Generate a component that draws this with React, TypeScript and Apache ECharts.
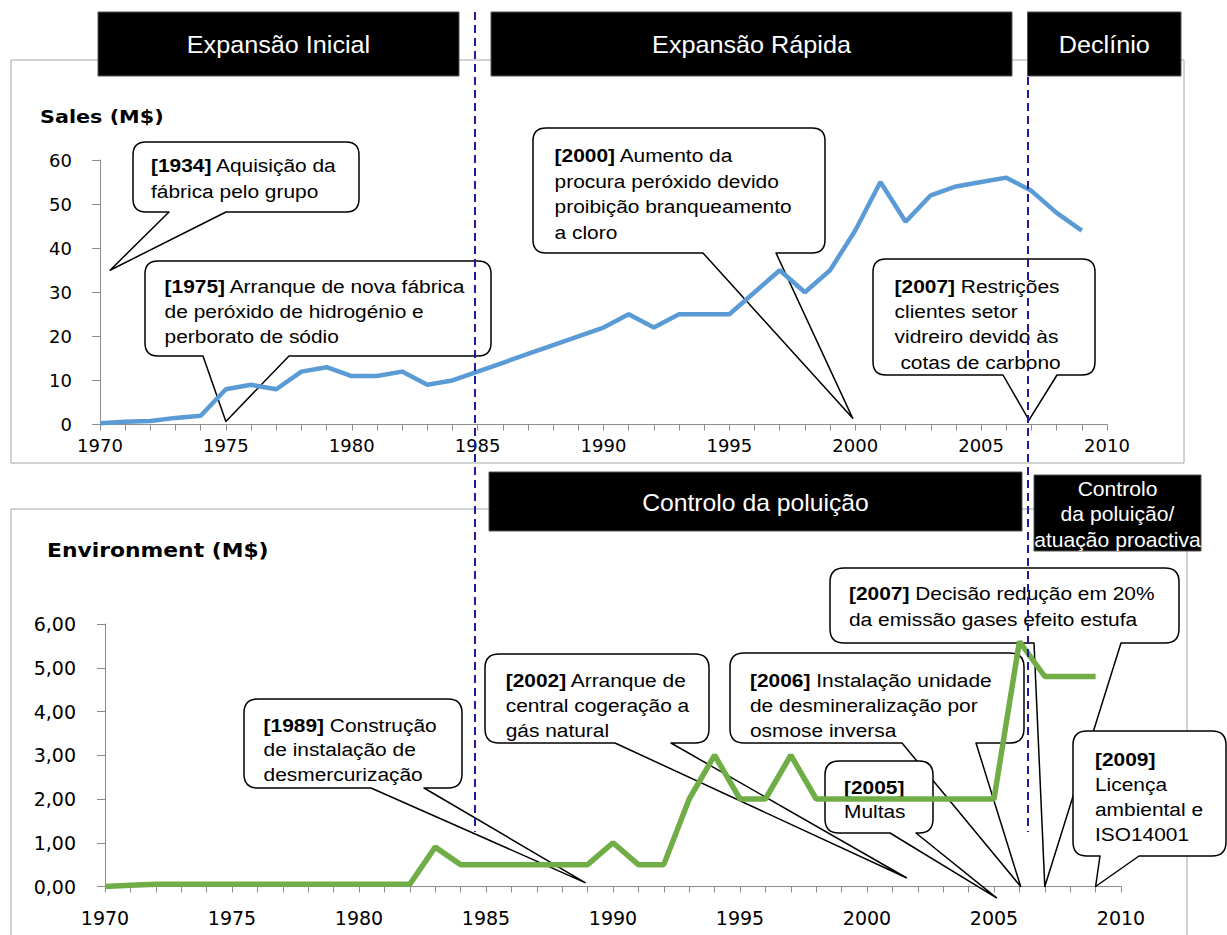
import { useEffect, useRef } from 'react';
import * as echarts from 'echarts';

// ---------- data ----------
const years = [
  1970, 1971, 1972, 1973, 1974, 1975, 1976, 1977, 1978, 1979,
  1980, 1981, 1982, 1983, 1984, 1985, 1986, 1987, 1988, 1989,
  1990, 1991, 1992, 1993, 1994, 1995, 1996, 1997, 1998, 1999,
  2000, 2001, 2002, 2003, 2004, 2005, 2006, 2007, 2008, 2009,
];
const salesValues = [
  0.3, 0.6, 0.8, 1.5, 2, 8, 9, 8, 12, 13,
  11, 11, 12, 9, 10, 12, 14, 16, 18, 20,
  22, 25, 22, 25, 25, 25, 30, 35, 30, 35,
  44, 55, 46, 52, 54, 55, 56, 53, 48, 44,
];
const environmentValues = [
  0, 0.03, 0.05, 0.05, 0.05, 0.05, 0.05, 0.05, 0.05, 0.05,
  0.05, 0.05, 0.05, 0.9, 0.5, 0.5, 0.5, 0.5, 0.5, 0.5,
  1.0, 0.5, 0.5, 2.0, 3.0, 2.0, 2.0, 3.0, 2.0, 2.0,
  2.0, 2.0, 2.0, 2.0, 2.0, 2.0, 5.6, 4.8, 4.8, 4.8,
];
const salesTitle = 'Sales (M$)';
const environmentTitle = 'Environment (M$)';
const topPhases = ['Expansão Inicial', 'Expansão Rápida', 'Declínio'];
const bottomPhases = ['Controlo da poluição', 'Controlo\nda poluição/\natuação proactiva'];

const calloutTexts = [
  '{b|[1934]} Aquisição da\nfábrica pelo grupo',
  '{b|[1975]} Arranque de nova fábrica\nde peróxido de hidrogénio e\nperborato de sódio',
  '{b|[2000]} Aumento da\nprocura peróxido devido\nproibição branqueamento\na cloro',
  '{b|[2007]} Restrições\nclientes setor\nvidreiro devido às\n cotas de carbono',
  '{b|[1989]} Construção\nde instalação de\ndesmercurização',
  '{b|[2002]} Arranque de\ncentral cogeração a\ngás natural',
  '{b|[2006]} Instalação unidade\nde desmineralização por\nosmose inversa',
  '{b|[2005]}\nMultas',
  '{b|[2007]} Decisão redução em 20%\nda emissão gases efeito estufa',
  '{b|[2009]}\nLicença\nambiental e\nISO14001',
];
// where each callout points, in data units [year, value], and which chart
const calloutTipYears = [1970.4, 1975, 1999.9, 2006.9, 1988.9, 2001.55, 2006.05, 2005.1, 2007, 2009];
const calloutTipValues = [35, 0.7, 1.4, 1, 0.09, 0.2, 0, -0.26, 0, 0];
const calloutChart = [0, 0, 0, 0, 1, 1, 1, 1, 1, 1];

// ---------- layout ----------
// box: x, y, w, h ; base: pointer base x1, x2 ; text: left, first line centre, line height
const calloutLayout = [
  { x: 133, y: 142, w: 226, h: 70, b1: 169, b2: 226, tl: 151, tc: 165, lh: 26.5 },
  { x: 145, y: 261, w: 346, h: 95, b1: 203, b2: 289, tl: 164.6, tc: 286.5, lh: 25 },
  { x: 533, y: 128, w: 292, h: 125, b1: 703, b2: 776, tl: 554.6, tc: 155.5, lh: 25.5 },
  { x: 873, y: 259, w: 222, h: 116, b1: 1003, b2: 1057, tl: 894.6, tc: 286, lh: 25.3 },
  { x: 244, y: 699, w: 218, h: 89, b1: 371, b2: 424, tl: 263.6, tc: 725, lh: 24.5 },
  { x: 485, y: 654, w: 224, h: 89, b1: 615, b2: 671, tl: 505.7, tc: 680, lh: 25 },
  { x: 730, y: 653, w: 294, h: 90, b1: 902, b2: 976, tl: 750, tc: 680, lh: 25 },
  { x: 825, y: 761, w: 108, h: 72, b1: 890, b2: 916, tl: 844, tc: 787, lh: 24.5 },
  { x: 830, y: 568, w: 349, h: 75, b1: 1034, b2: 1121, tl: 849, tc: 593, lh: 26 },
  { x: 1073, y: 731, w: 153, h: 125, b1: 1100, b2: 1139, tl: 1095, tc: 759, lh: 25 },
];

function bubblePath(x: number, y: number, w: number, h: number, r: number, b1: number, b2: number, tx: number, ty: number) {
  const R = x + w;
  const B = y + h;
  return (
    `M${x + r},${y} L${R - r},${y} Q${R},${y} ${R},${y + r} L${R},${B - r} Q${R},${B} ${R - r},${B} ` +
    `L${b2},${B} L${tx},${ty} L${b1},${B} L${x + r},${B} Q${x},${B} ${x},${B - r} L${x},${y + r} Q${x},${y} ${x + r},${y} Z`
  );
}

const AXIS_GREY = '#8c8c8c';
const FRAME_GREY = '#a6a6a6';

export default function App() {
  const ref = useRef<HTMLDivElement>(null);

  useEffect(() => {
    if (!ref.current) return;
    const chart = echarts.init(ref.current, undefined, { renderer: 'svg' });

    const xAxisBase = (gridIndex: number, fontSize: number, margin: number) => ({
      gridIndex,
      type: 'value',
      min: 1970,
      max: 2010,
      interval: 5,
      axisLine: { show: true, lineStyle: { color: AXIS_GREY, width: 1 } },
      axisTick: { show: true, length: 6, lineStyle: { color: AXIS_GREY } },
      minorTick: { show: true, splitNumber: 5, length: 6, lineStyle: { color: AXIS_GREY } },
      splitLine: { show: false },
      axisLabel: {
        fontFamily: 'DejaVu Sans',
        fontSize,
        color: '#000',
        margin,
        formatter: (v: number) => String(Math.round(v)),
      },
    });

    const option: any = {
      animation: false,
      backgroundColor: '#fff',
      grid: [
        { left: 100, top: 160, width: 1007, height: 264.5 },
        { left: 105, top: 624, width: 1016, height: 262.5 },
      ],
      xAxis: [xAxisBase(0, 18, 12), xAxisBase(1, 19, 22)],
      yAxis: [
        {
          gridIndex: 0,
          type: 'value',
          min: 0,
          max: 60,
          interval: 10,
          axisLine: { show: true, lineStyle: { color: AXIS_GREY } },
          axisTick: { show: true, length: 8, lineStyle: { color: AXIS_GREY } },
          splitLine: { show: false },
          axisLabel: { fontFamily: 'DejaVu Sans', fontSize: 18, color: '#000', margin: 28 },
        },
        {
          gridIndex: 1,
          type: 'value',
          min: 0,
          max: 6,
          interval: 1,
          axisLine: { show: true, lineStyle: { color: AXIS_GREY } },
          axisTick: { show: true, length: 8, lineStyle: { color: AXIS_GREY } },
          splitLine: { show: false },
          axisLabel: {
            fontFamily: 'DejaVu Sans',
            fontSize: 19,
            color: '#000',
            margin: 29,
            formatter: (v: number) => v.toFixed(2).replace('.', ','),
          },
        },
      ],
      series: [
        {
          type: 'line',
          xAxisIndex: 0,
          yAxisIndex: 0,
          data: years.map((y, i) => [y, salesValues[i]]),
          showSymbol: false,
          symbol: 'none',
          lineStyle: { color: '#5B9BD5', width: 4.5 },
          z: 3,
        },
        {
          type: 'line',
          xAxisIndex: 1,
          yAxisIndex: 1,
          data: years.map((y, i) => [y, environmentValues[i]]),
          showSymbol: false,
          symbol: 'none',
          lineStyle: { color: '#70AD47', width: 5.5 },
          z: 3,
        },
      ],
    };
    chart.setOption(option);

    const elements: any[] = [];
    // frames
    elements.push({
      type: 'rect', z: 0,
      shape: { x: 11, y: 60, width: 1173, height: 403 },
      style: { fill: 'none', stroke: FRAME_GREY, lineWidth: 1 },
    });
    elements.push({
      type: 'rect', z: 0,
      shape: { x: 11, y: 509, width: 1176, height: 460 },
      style: { fill: 'none', stroke: FRAME_GREY, lineWidth: 1 },
    });

    // callouts
    calloutTexts.forEach((txt, i) => {
      const L = calloutLayout[i];
      const [px, py] = chart.convertToPixel({ gridIndex: calloutChart[i] } as any, [calloutTipYears[i], calloutTipValues[i]]) as number[];
      const name = 'bubble' + i;
      const d = bubblePath(L.x, L.y, L.w, L.h, calloutChart[i] === 0 ? 13 : 14, L.b1, L.b2, px, py);
      echarts.graphic.registerShape(name, (echarts.graphic as any).extendPath(d, {}));
      elements.push({
        type: name,
        z: 1,
        style: { fill: '#fff', stroke: '#000', lineWidth: 1.5, lineJoin: 'round' },
      });
      elements.push({
        type: 'text',
        z: 2,
        x: L.tl,
        y: L.tc - L.lh / 2,
        scaleX: 1.1,
        style: {
          text: txt,
          fontFamily: 'Liberation Sans',
          fontSize: 19,
          fill: '#000',
          lineHeight: L.lh,
          align: 'left',
          textAlign: 'left',
          verticalAlign: 'top',
          textVerticalAlign: 'top',
          rich: {
            b: { fontWeight: 'bold', fontFamily: 'Liberation Sans', fontSize: 19, lineHeight: L.lh, fill: '#000' },
          },
        },
      });
    });

    // dashed phase separators
    [475, 1028].forEach((x) => {
      elements.push({
        type: 'line', z: 10,
        shape: { x1: x, y1: 12, x2: x, y2: 832 },
        style: { stroke: '#1c1c9c', lineWidth: 2, lineDash: [8, 5] },
      });
    });

    // phase banners
    const topBanners = [
      { x: 98, y: 12, w: 361, h: 64, fs: 24 },
      { x: 491, y: 12, w: 521, h: 64, fs: 24 },
      { x: 1027.5, y: 12, w: 153.5, h: 64, fs: 24 },
    ];
    topPhases.forEach((label, i) => {
      const b = topBanners[i];
      elements.push({
        type: 'rect', z: 11,
        shape: { x: b.x, y: b.y, width: b.w, height: b.h },
        style: { fill: '#000', stroke: '#555', lineWidth: 1 },
      });
      elements.push({
        type: 'text', z: 12,
        x: b.x + b.w / 2,
        y: b.y + b.h / 2 + 1,
        scaleX: 1.05,
        style: {
          text: label, fontFamily: 'Liberation Sans', fontSize: b.fs, fill: '#fff',
          align: 'center', textAlign: 'center', verticalAlign: 'middle', textVerticalAlign: 'middle',
        },
      });
    });
    const bottomBanners = [
      { x: 489, y: 472, w: 533, h: 59, fs: 24, lh: 28 },
      { x: 1034, y: 475, w: 167, h: 76, fs: 20.5, lh: 25.5 },
    ];
    bottomPhases.forEach((label, i) => {
      const b = bottomBanners[i];
      elements.push({
        type: 'rect', z: 11,
        shape: { x: b.x, y: b.y, width: b.w, height: b.h },
        style: { fill: '#000', stroke: '#555', lineWidth: 1 },
      });
      elements.push({
        type: 'text', z: 12,
        x: b.x + b.w / 2,
        y: b.y + b.h / 2 + 1,
        scaleX: 1.03,
        style: {
          text: label, fontFamily: 'Liberation Sans', fontSize: b.fs, fill: '#fff', lineHeight: b.lh,
          align: 'center', textAlign: 'center', verticalAlign: 'middle', textVerticalAlign: 'middle',
        },
      });
    });

    // chart titles
    elements.push({
      type: 'text', z: 5, x: 40, y: 117, scaleX: 1.22,
      style: {
        text: salesTitle, fontFamily: 'DejaVu Sans', fontWeight: 'bold', fontSize: 17, fill: '#000',
        align: 'left', textAlign: 'left', verticalAlign: 'middle', textVerticalAlign: 'middle',
      },
    });
    elements.push({
      type: 'text', z: 5, x: 47, y: 551, scaleX: 1.15,
      style: {
        text: environmentTitle, fontFamily: 'DejaVu Sans', fontWeight: 'bold', fontSize: 19, fill: '#000',
        align: 'left', textAlign: 'left', verticalAlign: 'middle', textVerticalAlign: 'middle',
      },
    });

    chart.setOption({ graphic: { elements } });

    return () => {
      chart.dispose();
    };
  }, []);

  return (
    <div
      ref={ref}
      style={{ position: 'absolute', left: 0, top: 0, width: 1227, height: 935, background: '#fff' }}
    />
  );
}
